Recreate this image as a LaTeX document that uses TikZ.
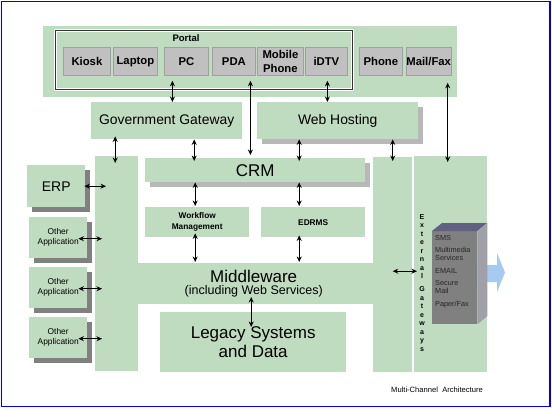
\documentclass[tikz,border=0pt]{standalone}
\usepackage{fontspec}
\setmainfont{Liberation Sans}
\usetikzlibrary{arrows.meta,calc,shadows}

\definecolor{boxgreen}{RGB}{192,220,192}
\definecolor{devgray}{RGB}{192,192,192}
\definecolor{devedge}{RGB}{160,160,160}
\definecolor{shadowlight}{RGB}{184,184,184}
\definecolor{shadowdark}{RGB}{128,128,128}
\definecolor{bluearrow}{RGB}{166,202,240}
\definecolor{srvfront}{RGB}{128,128,128}
\definecolor{srvtop}{RGB}{96,96,128}
\definecolor{srvside}{RGB}{160,160,168}
\definecolor{framecol}{RGB}{0,0,230}

\begin{document}
\begin{tikzpicture}[x=1pt,y=-1pt,>={Stealth[length=5.5pt,width=5pt]},
    blk/.style={fill=boxgreen,inner sep=0pt,anchor=north west},
    dev/.style={fill=devgray,draw=devedge,line width=0.8pt,inner sep=0pt,anchor=north west,align=center,font=\bfseries\fontsize{11.3}{13.5}\selectfont},
    sz/.style 2 args={minimum width=#1pt,minimum height=#2pt},
    lightshadow/.style={drop shadow={shadow xshift=4.5pt,shadow yshift=-4.5pt,fill=shadowlight,opacity=1}},
    darkshadow/.style={drop shadow={shadow xshift=4.5pt,shadow yshift=-4.5pt,fill=shadowdark,opacity=1}},
    link/.style={<->,line width=1.3pt}]
    \useasboundingbox (0,0) rectangle (552,410);

    \node[blk,sz={414}{71}] (band) at (43,26) {};
    \node[draw=white,double=black!80,double distance=0.8pt,line width=1pt,inner sep=0pt,anchor=north west,sz={297}{59}] (portal) at (55,30) {};
    \node[font=\bfseries\fontsize{9.5}{11}\selectfont] (portallabel) at (186,38) {Portal};

    \node[dev,sz={47}{28}] (kiosk) at (63,47) {Kiosk};
    \node[dev,sz={44}{28}] (laptop) at (113,47) {Laptop};
    \node[dev,sz={44}{28}] (pc) at (164,47) {PC};
    \node[dev,sz={43}{28}] (pda) at (212,47) {PDA};
    \node[dev,sz={46}{28}] (mobile) at (257,47) {Mobile\\Phone};
    \node[dev,sz={42}{28}] (idtv) at (305,47) {iDTV};
    \node[dev,sz={43}{28}] (phone) at (359,47) {Phone};
    \node[dev,sz={44}{28}] (mailfax) at (406,47) {Mail/Fax};

    \node[blk,sz={151}{37},font=\fontsize{13.9}{16}\selectfont] (gov) at (91,102) {Government Gateway};
    \node[blk,lightshadow,sz={161}{37},font=\fontsize{13.9}{16}\selectfont] (web) at (257,102) {Web Hosting};

    \node[blk,sz={43}{215}] (mwleft) at (95,156) {};
    \node[blk,sz={39}{215}] (mwright) at (373,157) {};
    \node[blk,sz={317}{41},align=center] (mw) at (95,263) {{\fontsize{17}{18}\selectfont Middleware}\\{\fontsize{12.5}{14}\selectfont (including Web Services)}};

    \node[blk,lightshadow,sz={220}{24},font=\fontsize{17}{19}\selectfont] (crm) at (145,158) {CRM};
    \node[blk,sz={104}{30},align=center,font=\bfseries\fontsize{8.3}{11}\selectfont] (wf) at (145,207) {Workflow\\Management};
    \node[blk,sz={104}{30},font=\bfseries\fontsize{8.3}{11}\selectfont] (edrms) at (261,207) {EDRMS};
    \node[blk,sz={186}{60},align=center,font=\fontsize{17}{19}\selectfont] (legacy) at (160,312) {Legacy Systems\\and Data};

    \node[blk,darkshadow,sz={58}{42},font=\fontsize{14}{16}\selectfont] (erp) at (27,165) {ERP};
    \foreach \i/\y in {1/217,2/267,3/317}
        \node[blk,darkshadow,sz={58}{41},align=center,font=\fontsize{8.4}{10}\selectfont] (app\i) at (29,\y) {Other\\Application};

    \node[blk,sz={73}{216}] (ext) at (414,156) {};
    \node[inner sep=0pt,anchor=north,align=center,font=\bfseries\fontsize{7}{8.5}\selectfont] (extlabel) at (422,214) {E\\x\\t\\e\\r\\n\\a\\l\\[4.5pt]G\\a\\t\\e\\w\\a\\y\\s};

    \fill[bluearrow] (470,265) -- (497,265) -- (497,253) -- (505,272.5) -- (497,292) -- (497,282) -- (470,282) -- cycle;
    \node[fill=srvfront,inner sep=0pt,anchor=north west,sz={45}{93}] (srv) at (432,231) {};
    \fill[srvtop] (srv.north west) -- ++(10,-8) -- ++(45,0) -- (srv.north east) -- cycle;
    \fill[srvside] (srv.north east) -- ++(10,-8) -- ++(0,93) -- (srv.south east) -- cycle;
    \node[inner sep=0pt,anchor=north west,align=left,text=black!85,font=\fontsize{7.3}{8}\selectfont] (srvtext) at (435,235) {SMS\\[4.5pt]Multimedia\\Services\\[4.5pt]EMAIL\\[4pt]Secure\\Mail\\[5pt]Paper/Fax};

    \node[font=\fontsize{7.6}{9}\selectfont] (caption) at (437,390) {Multi-Channel\ \ Architecture};

    \path[link]
        ($(pc.south)+(-14,5)$) edge ($(pc.south |- gov.north)+(-14,0)$)
        ($(pda.south)+(16.5,5)$) edge ($(pda.south |- crm.north)+(16.5,-3)$)
        ($(idtv.south)+(1,5)$) edge ($(idtv.south |- web.north)+(1,0)$)
        ($(mailfax.south)+(19,7)$) edge ($(mailfax.south |- ext.north)+(19,6)$)
        ($(mwleft.north |- gov.south)+(-1.5,-3)$) edge ($(mwleft.north)+(-1.5,7)$)
        ($(gov.south)+(27.5,0)$) edge ($(gov.south |- crm.north)+(27.5,3)$)
        ($(web.south)+(-38.5,0)$) edge ($(web.south |- crm.north)+(-38.5,3)$)
        (mwright.north |- web.south) edge ($(mwright.north)+(0,4)$)
        ($(wf.north |- crm.south)+(-2,0)$) edge ($(wf.north)+(-2,-1)$)
        ($(edrms.north |- crm.south)+(-14,0)$) edge ($(edrms.north)+(-14,-1)$)
        ($(wf.south)+(-2,-4)$) edge ($(wf.south |- mw.north)+(-2,-1)$)
        ($(edrms.south)+(-14,-2)$) edge ($(edrms.south |- mw.north)+(-14,-1)$)
        ($(legacy.north)+(-2,-15)$) edge ($(legacy.north)+(-2,15)$)
        ($(erp.east)+(-1,0)$) edge ($(erp.east -| mwleft.west)+(11,0)$)
        ($(mwright.center)+(0,6.5)$) edge ($(ext.west |- mwright.center)+(3,6.5)$);
    \foreach \i in {1,2,3}
        \path[link] ($(app\i.east)+(-9,1)$) edge ($(app\i.east -| mwleft.west)+(7,1)$);

    \draw[framecol,line width=1.3pt] (1.5,1.5) rectangle (550,406.5);
\end{tikzpicture}
\end{document}
